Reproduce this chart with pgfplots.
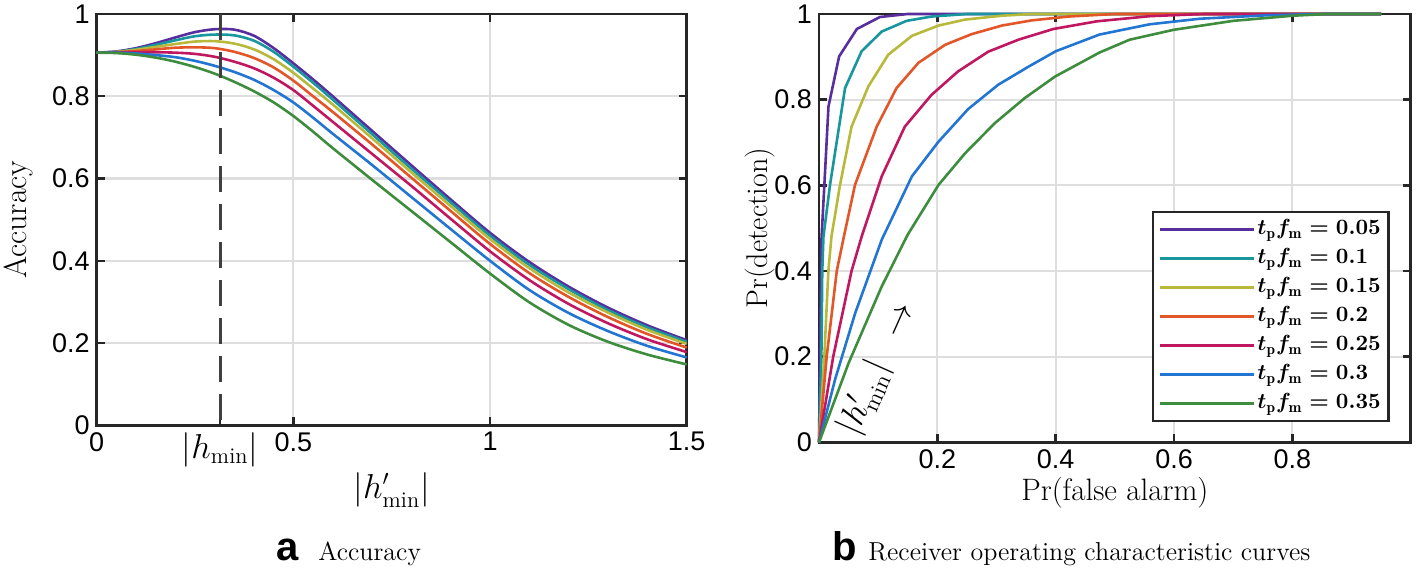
\documentclass[border=0pt]{standalone}
\usepackage{fontspec}
\usepackage{pgfplots}
\pgfplotsset{compat=1.18}
\newfontfamily\helv{Liberation Sans}
\definecolor{cP}{RGB}{88,46,158}
\definecolor{cT}{RGB}{24,150,158}
\definecolor{cO}{RGB}{184,184,58}
\definecolor{cR}{RGB}{226,86,40}
\definecolor{cM}{RGB}{192,24,96}
\definecolor{cB}{RGB}{34,118,210}
\definecolor{cG}{RGB}{62,140,62}
\definecolor{frame}{RGB}{38,38,38}
\pgfplotsset{mystyle/.style={
  scale only axis, clip=false,
  axis line style={draw=frame, line width=1.4pt},
  grid=major, major grid style={draw=black!13, line width=1.1pt},
  tick style={draw=frame, line width=1.2pt}, major tick length=4pt, tick align=inside,
  tick label style={font=\helv\fontsize{13.5}{16}\selectfont},
  every axis plot/.append style={line width=1.3pt},
}}
\begin{document}
\begin{tikzpicture}
\useasboundingbox (0pt,0pt) rectangle (708pt,284pt);
% ---------------- left -----------------
\begin{axis}[mystyle, at={(48.35pt,71.35pt)}, anchor=south west,
  width=295pt, height=205.65pt,
  xmin=0, xmax=1.5, ymin=0, ymax=1,
  xtick={0,0.5,1,1.5}, xticklabels={0,0.5,1,1.5},
  ytick={0,0.2,0.4,0.6,0.8,1}, yticklabels={0,0.2,0.4,0.6,0.8,1},
  extra x ticks={0.3135}, extra x tick labels={$|h_{\min}|$},
  extra x tick style={grid=none, tick label style={font=\fontsize{16}{19}\selectfont}},
  xlabel={$|h'_{\min}|$}, ylabel={Accuracy},
  every axis x label/.style={at={(axis description cs:0.5,-0.157)}, anchor=center, font=\fontsize{16}{19}\selectfont},
  every axis y label/.style={at={(axis description cs:-0.133,0.5)}, rotate=90, anchor=center, font=\fontsize{16}{19}\selectfont},
]
\addplot[cP, smooth] coordinates {(0,.906)(0.05,.909)(0.1,.917)(0.15,.929)(0.2,.943)(0.25,.956)(0.3,.963)(0.35,.962)(0.4,.947)(0.45,.917)(0.5,.880)(0.55,.841)(0.6,.800)(0.7,.716)(0.8,.632)(0.9,.549)(1.0,.468)(1.1,.397)(1.2,.337)(1.3,.286)(1.4,.243)(1.5,.207)};
\addplot[cT, smooth] coordinates {(0,.906)(0.05,.908)(0.1,.915)(0.15,.925)(0.2,.936)(0.25,.946)(0.3,.950)(0.35,.948)(0.4,.935)(0.45,.908)(0.5,.872)(0.55,.833)(0.6,.792)(0.7,.708)(0.8,.624)(0.9,.542)(1.0,.461)(1.1,.390)(1.2,.331)(1.3,.280)(1.4,.238)(1.5,.203)};
\addplot[cO, smooth] coordinates {(0,.906)(0.05,.908)(0.1,.913)(0.15,.920)(0.2,.927)(0.25,.933)(0.3,.934)(0.35,.928)(0.4,.914)(0.45,.890)(0.5,.857)(0.55,.819)(0.6,.780)(0.7,.698)(0.8,.615)(0.9,.533)(1.0,.453)(1.1,.382)(1.2,.323)(1.3,.274)(1.4,.232)(1.5,.198)};
\addplot[cR, smooth] coordinates {(0,.906)(0.05,.907)(0.1,.910)(0.15,.914)(0.2,.918)(0.25,.919)(0.3,.917)(0.35,.908)(0.4,.893)(0.45,.870)(0.5,.838)(0.55,.800)(0.6,.762)(0.7,.683)(0.8,.602)(0.9,.521)(1.0,.441)(1.1,.370)(1.2,.312)(1.3,.263)(1.4,.222)(1.5,.189)};
\addplot[cM, smooth] coordinates {(0,.906)(0.05,.907)(0.1,.907)(0.15,.907)(0.2,.906)(0.25,.903)(0.3,.896)(0.35,.884)(0.4,.868)(0.45,.845)(0.5,.815)(0.55,.777)(0.6,.738)(0.7,.660)(0.8,.582)(0.9,.502)(1.0,.423)(1.1,.353)(1.2,.295)(1.3,.248)(1.4,.209)(1.5,.178)};
\addplot[cB, smooth] coordinates {(0,.906)(0.05,.906)(0.1,.904)(0.15,.900)(0.2,.895)(0.25,.886)(0.3,.874)(0.35,.859)(0.4,.840)(0.45,.815)(0.5,.785)(0.55,.748)(0.6,.709)(0.7,.633)(0.8,.555)(0.9,.477)(1.0,.400)(1.1,.329)(1.2,.273)(1.3,.229)(1.4,.193)(1.5,.165)};
\addplot[cG, smooth] coordinates {(0,.906)(0.05,.905)(0.1,.901)(0.15,.894)(0.2,.884)(0.25,.871)(0.3,.855)(0.35,.835)(0.4,.812)(0.45,.785)(0.5,.752)(0.55,.714)(0.6,.674)(0.7,.597)(0.8,.521)(0.9,.445)(1.0,.369)(1.1,.299)(1.2,.244)(1.3,.203)(1.4,.172)(1.5,.148)};
\addplot[black!75, line width=1.5pt, dash pattern=on 13pt off 6pt] coordinates {(0.3135,1)(0.3135,0)};
\end{axis}
% ---------------- right -----------------
\begin{axis}[mystyle, at={(409.5pt,62.85pt)}, anchor=south west,
  width=295.85pt, height=214.15pt,
  xmin=0, xmax=1, ymin=0, ymax=1,
  xtick={0.2,0.4,0.6,0.8}, xticklabels={0.2,0.4,0.6,0.8},
  ytick={0,0.2,0.4,0.6,0.8,1}, yticklabels={0,0.2,0.4,0.6,0.8,1},
  xlabel={Pr(false alarm)}, ylabel={Pr(detection)},
  every axis x label/.style={at={(axis description cs:0.5,-0.118)}, anchor=center, font=\fontsize{15.5}{18}\selectfont},
  every axis y label/.style={at={(axis description cs:-0.0997,0.5)}, rotate=90, anchor=center, font=\fontsize{15}{18}\selectfont},
  legend style={at={(0.965,0.047)}, anchor=south east, draw=frame, line width=1.3pt,
    font=\fontsize{11}{14}\selectfont\boldmath, cells={anchor=west},
    nodes={inner sep=1pt, text height=9pt, text depth=3.5pt},
    inner xsep=3pt, inner ysep=1.5pt, row sep=0pt},
  legend image code/.code={\draw[#1] (0pt,0pt) -- (47pt,0pt);},
]
\addplot[cP] coordinates {(0,0)(0.002,0.25)(0.004,0.47)(0.009,0.6)(0.016,0.784)(0.034,0.901)(0.064,0.965)(0.103,0.993)(0.15,1.0)(0.95,1.0)};
\addlegendentry{$t_{\mathrm{p}}f_{\mathrm{m}}=0.05$}
\addplot[cT] coordinates {(0,0)(0.004,0.2)(0.0055,0.4)(0.0075,0.48)(0.0186,0.601)(0.044,0.827)(0.072,0.913)(0.106,0.959)(0.148,0.984)(0.19,0.994)(0.25,1.0)(0.95,1.0)};
\addlegendentry{$t_{\mathrm{p}}f_{\mathrm{m}}=0.1$}
\addplot[cO] coordinates {(0,0)(0.009,0.2)(0.0158,0.4)(0.021,0.48)(0.0355,0.601)(0.055,0.737)(0.0834,0.831)(0.117,0.905)(0.157,0.949)(0.202,0.973)(0.247,0.987)(0.309,0.996)(0.36,1.0)(0.95,1.0)};
\addlegendentry{$t_{\mathrm{p}}f_{\mathrm{m}}=0.15$}
\addplot[cR] coordinates {(0,0)(0.013,0.2)(0.03,0.4)(0.042,0.48)(0.0608,0.601)(0.0975,0.737)(0.131,0.827)(0.168,0.886)(0.213,0.928)(0.258,0.953)(0.309,0.973)(0.359,0.985)(0.421,0.994)(0.5,1.0)(0.95,1.0)};
\addlegendentry{$t_{\mathrm{p}}f_{\mathrm{m}}=0.2$}
\addplot[cM] coordinates {(0,0)(0.024,0.2)(0.055,0.4)(0.072,0.48)(0.106,0.621)(0.145,0.737)(0.19,0.811)(0.235,0.866)(0.286,0.912)(0.337,0.940)(0.396,0.965)(0.47,0.983)(0.56,0.995)(0.65,1.0)(0.95,1.0)};
\addlegendentry{$t_{\mathrm{p}}f_{\mathrm{m}}=0.25$}
\addplot[cB] coordinates {(0,0)(0.027,0.146)(0.061,0.301)(0.106,0.473)(0.157,0.621)(0.202,0.702)(0.252,0.778)(0.303,0.835)(0.354,0.877)(0.4,0.913)(0.474,0.952)(0.559,0.976)(0.644,0.989)(0.757,0.997)(0.85,1.0)(0.95,1.0)};
\addlegendentry{$t_{\mathrm{p}}f_{\mathrm{m}}=0.3$}
\addplot[cG] coordinates {(0,0)(0.05,0.185)(0.106,0.364)(0.150,0.485)(0.202,0.601)(0.247,0.675)(0.297,0.745)(0.348,0.804)(0.399,0.854)(0.474,0.91)(0.525,0.94)(0.599,0.963)(0.700,0.984)(0.801,0.996)(0.86,1.0)(0.95,1.0)};
\addlegendentry{$t_{\mathrm{p}}f_{\mathrm{m}}=0.35$}
\node[rotate=66, font=\fontsize{16.5}{19}\selectfont] at (axis cs:0.099,0.172) {$|h'_{\min}|\;\;\rightarrow$};
\end{axis}
% captions
\node[anchor=base, inner sep=0pt, font=\helv\bfseries\fontsize{20}{22}\selectfont] at (144pt,4pt) {a};
\node[anchor=base west, inner sep=0pt, font=\fontsize{13}{15}\selectfont] at (159pt,4pt) {Accuracy};
\node[anchor=base, inner sep=0pt, font=\helv\bfseries\fontsize{20}{22}\selectfont] at (422.5pt,4pt) {b};
\node[anchor=base west, inner sep=0pt, font=\fontsize{13}{15}\selectfont] at (434pt,4pt) {Receiver operating characteristic curves};
\end{tikzpicture}
\end{document}
